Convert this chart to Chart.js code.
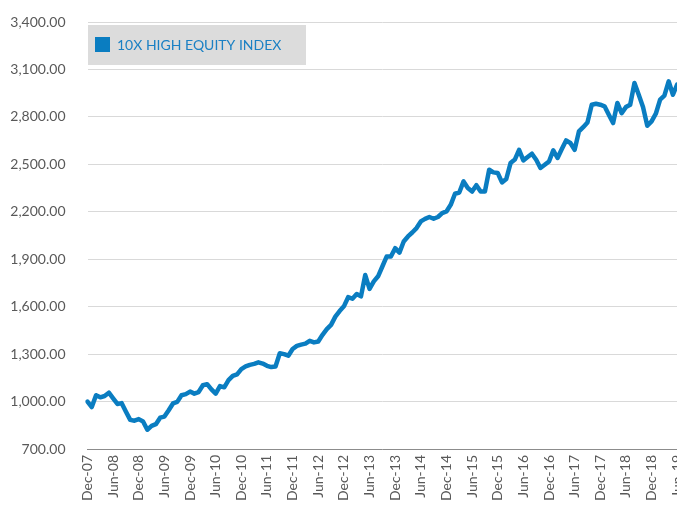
<!DOCTYPE html>
<html>
<head>
<meta charset="utf-8">
<script src="https://cdn.jsdelivr.net/npm/chart.js@4"></script>
<style>
  html, body { margin: 0; padding: 0; background: #ffffff; overflow: hidden; }
  #wrap { position: absolute; left: 0; top: 0; width: 700px; height: 506px; }
</style>
</head>
<body>
<div id="wrap"><canvas id="c"></canvas></div>
<script>
const seriesName = '10X HIGH EQUITY INDEX';

const months = [
  'Dec-07',
  'Jan-08','Feb-08','Mar-08','Apr-08','May-08','Jun-08','Jul-08','Aug-08','Sep-08','Oct-08','Nov-08','Dec-08',
  'Jan-09','Feb-09','Mar-09','Apr-09','May-09','Jun-09','Jul-09','Aug-09','Sep-09','Oct-09','Nov-09','Dec-09',
  'Jan-10','Feb-10','Mar-10','Apr-10','May-10','Jun-10','Jul-10','Aug-10','Sep-10','Oct-10','Nov-10','Dec-10',
  'Jan-11','Feb-11','Mar-11','Apr-11','May-11','Jun-11','Jul-11','Aug-11','Sep-11','Oct-11','Nov-11','Dec-11',
  'Jan-12','Feb-12','Mar-12','Apr-12','May-12','Jun-12','Jul-12','Aug-12','Sep-12','Oct-12','Nov-12','Dec-12',
  'Jan-13','Feb-13','Mar-13','Apr-13','May-13','Jun-13','Jul-13','Aug-13','Sep-13','Oct-13','Nov-13','Dec-13',
  'Jan-14','Feb-14','Mar-14','Apr-14','May-14','Jun-14','Jul-14','Aug-14','Sep-14','Oct-14','Nov-14','Dec-14',
  'Jan-15','Feb-15','Mar-15','Apr-15','May-15','Jun-15','Jul-15','Aug-15','Sep-15','Oct-15','Nov-15','Dec-15',
  'Jan-16','Feb-16','Mar-16','Apr-16','May-16','Jun-16','Jul-16','Aug-16','Sep-16','Oct-16','Nov-16','Dec-16',
  'Jan-17','Feb-17','Mar-17','Apr-17','May-17','Jun-17','Jul-17','Aug-17','Sep-17','Oct-17','Nov-17','Dec-17',
  'Jan-18','Feb-18','Mar-18','Apr-18','May-18','Jun-18','Jul-18','Aug-18','Sep-18','Oct-18','Nov-18','Dec-18',
  'Jan-19','Feb-19','Mar-19','Apr-19','May-19','Jun-19'
];

const indexValues = [
  1000,
  965,1040,1027,1035,1056,1020,985,990,936,884,879,889,
  874,822,846,857,898,905,945,988,998,1040,1047,1063,
  1050,1060,1103,1110,1077,1050,1098,1090,1135,1162,1172,1205,
  1222,1232,1238,1248,1240,1226,1218,1222,1305,1300,1290,1332,
  1352,1360,1366,1384,1374,1380,1422,1458,1485,1537,1572,1602,
  1660,1650,1680,1665,1800,1712,1760,1792,1854,1917,1917,1970,
  1942,2012,2044,2069,2097,2139,2155,2167,2156,2167,2192,2202,
  2244,2314,2322,2392,2350,2328,2368,2328,2328,2466,2449,2445,
  2386,2407,2508,2530,2592,2525,2546,2567,2529,2477,2497,2518,
  2588,2540,2597,2651,2635,2592,2708,2735,2765,2877,2883,2877,
  2867,2814,2761,2888,2824,2862,2877,3014,2940,2862,2744,2772,
  2820,2909,2934,3025,2940,3005
];

const yMin = 700, yMax = 3400, yStep = 300;
const labelEvery = 6;

const lineColor = '#0A7DC1';
const textColor = '#595959';
const gridColor = '#D9D9D9';
const font = 'Lato';

const legendBox = {
  id: 'legendBox',
  afterDraw(chart) {
    const ctx = chart.ctx;
    ctx.save();
    ctx.fillStyle = '#DCDCDC';
    ctx.fillRect(88, 25, 218, 40);
    ctx.fillStyle = lineColor;
    ctx.fillRect(95, 37, 15, 15);
    ctx.fillStyle = '#1A80C4';
    ctx.font = '14px ' + font;
    ctx.textBaseline = 'middle';
    ctx.textAlign = 'left';
    ctx.fillText(chart.data.datasets[0].label, 117, 45);
    ctx.restore();
  }
};

new Chart(document.getElementById('c'), {
  type: 'line',
  data: {
    labels: months,
    datasets: [{
      label: seriesName,
      data: indexValues,
      borderColor: lineColor,
      borderWidth: 4.5,
      pointRadius: 0,
      tension: 0,
      borderJoinStyle: 'round',
      borderCapStyle: 'round',
      fill: false
    }]
  },
  options: {
    responsive: true,
    maintainAspectRatio: false,
    animation: false,
    layout: { padding: { top: 22, right: 0, bottom: 0, left: 0 } },
    plugins: { legend: { display: false }, tooltip: { enabled: false } },
    scales: {
      x: {
        offset: false,
        grid: { display: false, drawTicks: false },
        border: { display: true, color: '#8C8C8C', width: 1 },
        ticks: {
          autoSkip: false,
          maxRotation: 90,
          minRotation: 90,
          padding: 6,
          color: textColor,
          font: { family: font, size: 14 },
          callback: function(v, i) { return i % labelEvery === 0 ? this.getLabelForValue(v) : ''; }
        },
        afterFit(s) { s.height = 57; }
      },
      y: {
        min: yMin,
        max: yMax,
        grid: { color: gridColor, lineWidth: 1, drawTicks: true, tickLength: 20, tickColor: 'rgba(0,0,0,0)' },
        border: { display: false },
        ticks: {
          stepSize: yStep,
          padding: 2,
          color: textColor,
          font: { family: font, size: 14 },
          callback: v => v.toLocaleString('en-US', { minimumFractionDigits: 2, maximumFractionDigits: 2 })
        },
        afterFit(s) { s.width = 87.5; }
      }
    }
  },
  plugins: [legendBox]
});
</script>
</body>
</html>
